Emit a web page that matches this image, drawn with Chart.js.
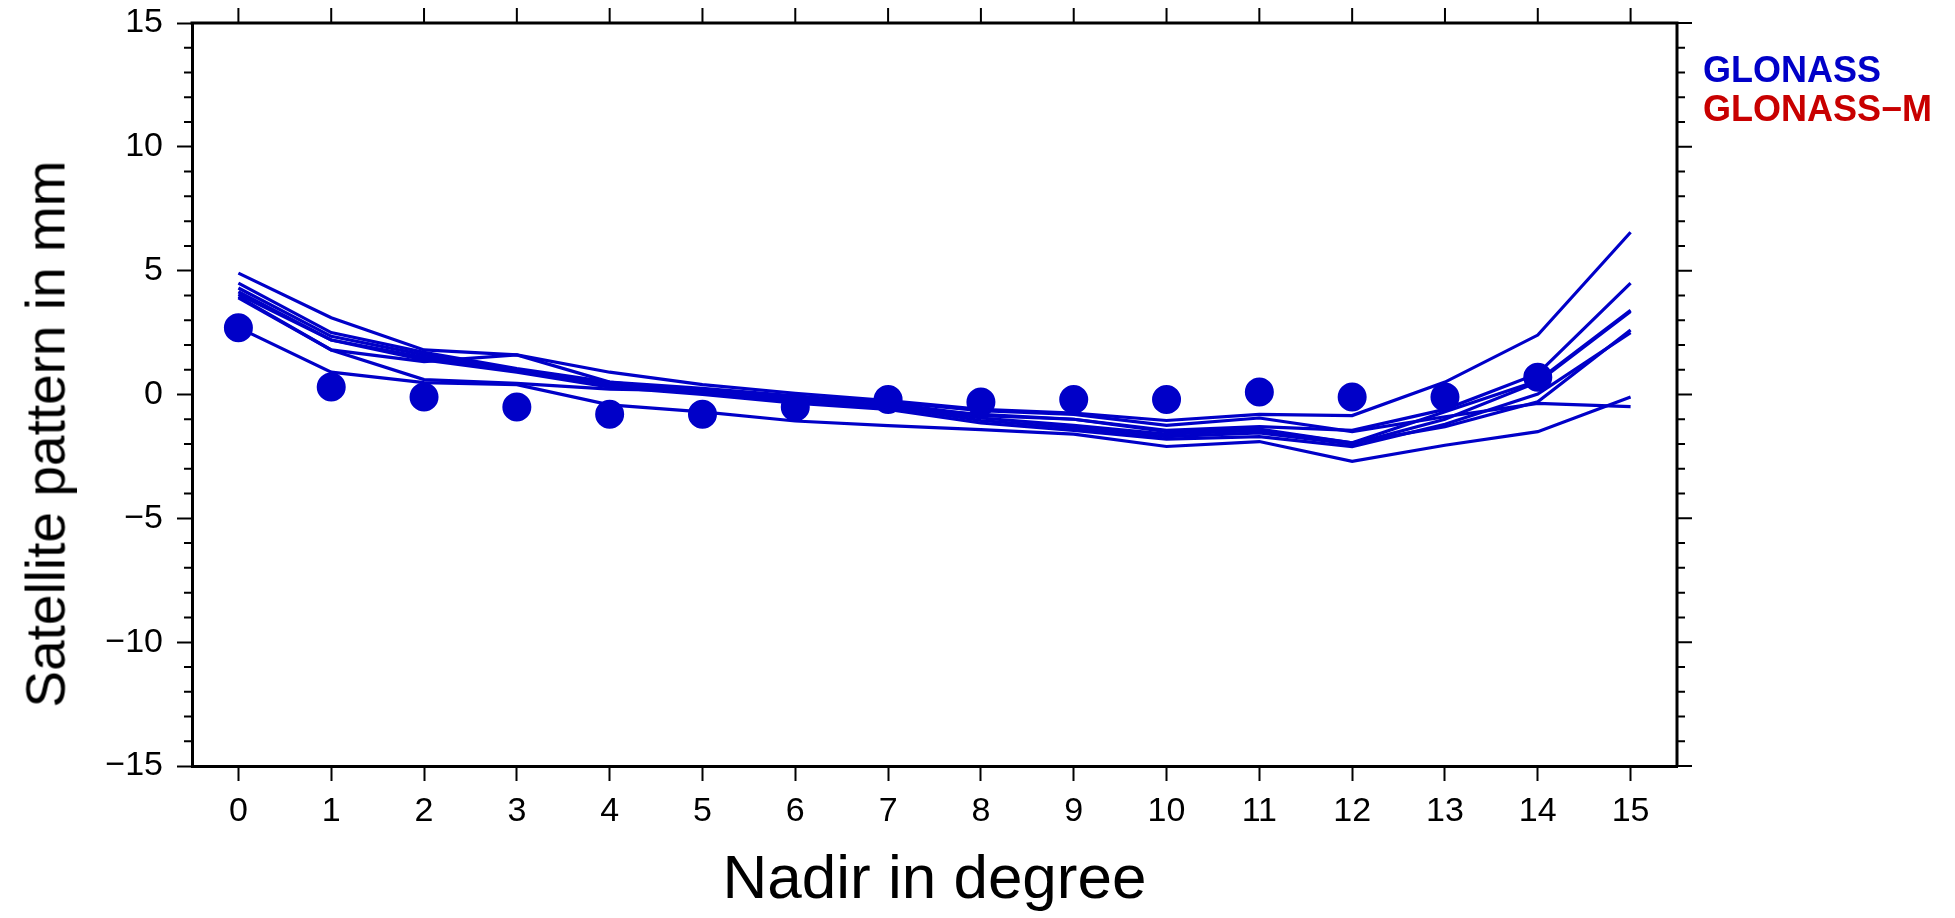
<!DOCTYPE html>
<html>
<head>
<meta charset="utf-8">
<script src="https://cdn.jsdelivr.net/npm/chart.js@4.4.1/dist/chart.umd.min.js"></script>
<style>
  html, body { margin: 0; padding: 0; background: #fff; }
  #wrap { position: relative; width: 1955px; height: 918px; }
  canvas { display: block; }
  .leg { position: absolute; left: 1703px; font-family: "Liberation Sans", Arial, sans-serif; font-weight: bold; font-size: 36px; line-height: 1; white-space: nowrap; }
  #ytitle { position: absolute; left: 46px; top: 434px; transform: translate(-50%, -50%) rotate(-90deg); font-family: "Liberation Sans", Arial, sans-serif; font-size: 55px; line-height: 1; white-space: nowrap; color: #000; }
</style>
</head>
<body>
<div id="wrap">
  <canvas id="c" width="1955" height="918"></canvas>
  <div id="ytitle">Satellite pattern in mm</div>
  <div class="leg" id="leg1" style="top:52px;color:#0000c8;">GLONASS</div>
  <div class="leg" id="leg2" style="top:91px;color:#c80000;">GLONASS−M</div>
</div>
<script>
// ---- data ----
const nadir = [0, 1, 2, 3, 4, 5, 6, 7, 8, 9, 10, 11, 12, 13, 14, 15];
const yTickValues = [-15, -10, -5, 0, 5, 10, 15];

const sat1 = [4.9, 3.1, 1.8, 1.6, 0.9, 0.4, 0.05, -0.25, -0.6, -0.75, -1.05, -0.8, -0.85, 0.5, 2.4, 6.55];
const sat2 = [4.5, 2.5, 1.7, 1.05, 0.5, 0.25, -0.05, -0.35, -0.85, -1.0, -1.45, -1.3, -1.45, -0.6, 0.84, 4.5];
const sat3 = [4.3, 2.35, 1.6, 1.0, 0.45, 0.15, -0.15, -0.45, -0.95, -1.25, -1.6, -1.45, -1.95, -0.7, 0.55, 3.4];
const sat4 = [4.15, 2.2, 1.5, 0.95, 0.35, 0.05, -0.25, -0.5, -1.05, -1.35, -1.7, -1.55, -2.0, -1.0, 0.5, 3.35];
const sat5 = [4.05, 2.2, 1.4, 0.9, 0.3, 0.0, -0.35, -0.6, -1.15, -1.45, -1.8, -1.7, -2.1, -1.2, 0.02, 2.5];
const sat6 = [3.9, 1.8, 1.33, 1.6, 0.5, 0.1, -0.2, -0.5, -0.8, -1.0, -1.5, -1.4, -1.95, -1.3, -0.29, 2.6];
const sat7 = [2.7, 0.9, 0.48, 0.4, -0.42, -0.7, -1.07, -1.26, -1.42, -1.6, -2.1, -1.9, -2.7, -2.05, -1.5, -0.1];
const sat8 = [3.95, 1.8, 0.6, 0.45, 0.22, 0.15, -0.1, -0.3, -0.65, -0.8, -1.25, -0.95, -1.5, -0.9, -0.36, -0.49];
const meanPattern = [2.7, 0.3, -0.1, -0.5, -0.8, -0.8, -0.5, -0.2, -0.3, -0.2, -0.2, 0.1, -0.1, -0.1, 0.7, null];

const satLines = [sat1, sat2, sat3, sat4, sat5, sat6, sat7, sat8];

const BLUE = '#0000c8';
const FONT = '"Liberation Sans", Arial, Helvetica, sans-serif';

const datasets = satLines.map((arr, i) => ({
  label: 'GLONASS ' + (i + 1),
  data: arr,
  borderColor: BLUE,
  backgroundColor: BLUE,
  borderWidth: 3.2,
  pointRadius: 0,
  tension: 0,
  fill: false
}));
datasets.push({
  label: 'GLONASS',
  data: meanPattern,
  showLine: false,
  pointRadius: 16.5,
  pointHoverRadius: 16.5,
  pointBackgroundColor: BLUE,
  pointBorderColor: '#ffffff',
  pointBorderWidth: 4
});

// extra frame / ticks (minor ticks, top & right axes) drawn from the chart's scales
const framePlugin = {
  id: 'frame',
  afterDraw(chart) {
    const ctx = chart.ctx;
    const a = chart.chartArea;
    const xs = chart.scales.x, ys = chart.scales.y;
    ctx.save();
    ctx.strokeStyle = '#000';
    ctx.lineCap = 'butt';
    ctx.lineWidth = 3;
    ctx.beginPath();
    ctx.moveTo(a.left - 1.5, a.top);
    ctx.lineTo(a.right + 1.5, a.top);
    ctx.moveTo(a.right, a.top);
    ctx.lineTo(a.right, a.bottom);
    ctx.stroke();
    ctx.lineWidth = 2;
    ctx.beginPath();
    for (let v = -15; v <= 15; v++) {
      const py = ys.getPixelForValue(v);
      const major = v % 5 === 0;
      const len = major ? 15 : 8;
      if (!major) { ctx.moveTo(a.left - len, py); ctx.lineTo(a.left, py); }
      ctx.moveTo(a.right, py); ctx.lineTo(a.right + len, py);
    }
    nadir.forEach((n, i) => {
      const px = xs.getPixelForValue(i);
      ctx.moveTo(px, a.top); ctx.lineTo(px, a.top - 15);
    });
    ctx.stroke();
    ctx.restore();
  }
};

new Chart(document.getElementById('c'), {
  type: 'line',
  data: { labels: nadir.map(String), datasets },
  options: {
    responsive: false,
    animation: false,
    events: [],
    layout: { padding: { top: 23, right: 278, bottom: 0, left: 0 } },
    plugins: { legend: { display: false }, tooltip: { enabled: false } },
    scales: {
      x: {
        type: 'category',
        offset: true,
        grid: { offset: false, drawOnChartArea: false, tickLength: 15, tickWidth: 2, tickColor: '#000' },
        border: { display: true, color: '#000', width: 3 },
        ticks: { color: '#000', font: { family: FONT, size: 34 }, padding: 10, maxRotation: 0, autoSkip: false },
        title: { display: true, text: 'Nadir in degree', color: '#000', font: { family: FONT, size: 62 }, padding: { top: 0, bottom: 0 } },
        afterFit(scale) { scale.height = 152; scale.paddingLeft = 0; scale.paddingRight = 0; }
      },
      y: {
        type: 'linear',
        min: -15, max: 15,
        afterBuildTicks(scale) { scale.ticks = yTickValues.map(v => ({ value: v })); },
        grid: { drawOnChartArea: false, tickLength: 15, tickWidth: 2, tickColor: '#000' },
        border: { display: true, color: '#000', width: 3 },
        ticks: { color: '#000', font: { family: FONT, size: 34 }, padding: 14,
                 callback: v => String(v).replace('-', '\u2212') },
        title: { display: false },
        afterFit(scale) { scale.width = 192; scale.paddingTop = 0; scale.paddingBottom = 0; }
      }
    }
  },
  plugins: [framePlugin]
});
</script>
</body>
</html>
